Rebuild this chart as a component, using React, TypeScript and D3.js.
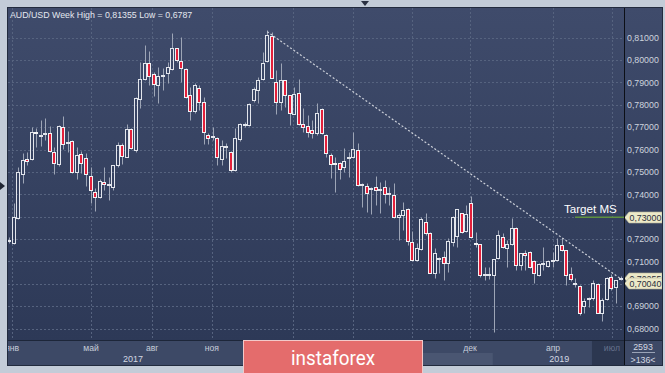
import React from "react";
import * as d3 from "d3";

const OPEN = [
  0.7194, 0.7181, 0.7293, 0.7491, 0.7556, 0.7557, 0.768, 0.7664, 0.7668, 0.7673,
  0.7588, 0.7536, 0.7702, 0.7629, 0.764, 0.7501, 0.7579, 0.7561, 0.7482, 0.7412,
  0.739, 0.7454, 0.7443, 0.7434, 0.7531, 0.7621, 0.7568, 0.7691, 0.7598, 0.7825,
  0.7914, 0.7986, 0.7937, 0.7889, 0.7931, 0.7942, 0.7959, 0.8053, 0.7997, 0.7959,
  0.7844, 0.7774, 0.7874, 0.7814, 0.7665, 0.7655, 0.7651, 0.7557, 0.761, 0.7591,
  0.7509, 0.7646, 0.7712, 0.771, 0.7822, 0.7866, 0.7914, 0.7997, 0.8108, 0.7903,
  0.7814, 0.7911, 0.7844, 0.7759, 0.7854, 0.7714, 0.7705, 0.7688, 0.7676, 0.778,
  0.7667, 0.7576, 0.7541, 0.7541, 0.7521, 0.7563, 0.7566, 0.7598, 0.7444, 0.7439,
  0.7425, 0.7432, 0.7421, 0.7434, 0.7403, 0.7397, 0.73, 0.7308, 0.7333, 0.7189,
  0.7107, 0.7155, 0.7278, 0.7229, 0.705, 0.7112, 0.7119, 0.7095, 0.7189, 0.7214,
  0.7315, 0.7236, 0.736, 0.7184, 0.7178, 0.7038, 0.7043, 0.704, 0.7114, 0.7211,
  0.7159, 0.7178, 0.7248, 0.7085, 0.7139, 0.7144, 0.71, 0.704, 0.7087, 0.708,
  0.7102, 0.7107, 0.7174, 0.7151, 0.7044, 0.7001, 0.6992, 0.6901, 0.6934, 0.6936,
  0.7, 0.6871, 0.6931, 0.7029, 0.6986, 0.7022,
];
const HIGH = [
  0.7211, 0.7363, 0.7524, 0.7586, 0.7591, 0.7701, 0.7698, 0.7732, 0.7741, 0.7705,
  0.7613, 0.771, 0.775, 0.7683, 0.7642, 0.7613, 0.7595, 0.7583, 0.7524, 0.7427,
  0.7467, 0.7521, 0.7479, 0.7533, 0.7635, 0.7631, 0.7714, 0.7695, 0.7834, 0.7993,
  0.8067, 0.8042, 0.7948, 0.797, 0.7963, 0.7993, 0.8122, 0.8055, 0.8104, 0.7963,
  0.7881, 0.7896, 0.7889, 0.7836, 0.7676, 0.7702, 0.7655, 0.7643, 0.7628, 0.7593,
  0.7695, 0.772, 0.7725, 0.7807, 0.7881, 0.7926, 0.8037, 0.81355, 0.8127, 0.7956,
  0.7986, 0.7913, 0.7846, 0.7881, 0.7914, 0.7787, 0.7755, 0.7732, 0.781, 0.7785,
  0.7669, 0.7583, 0.7568, 0.7546, 0.7606, 0.7591, 0.768, 0.7628, 0.7452, 0.745,
  0.7434, 0.7482, 0.7457, 0.7464, 0.7434, 0.745, 0.7315, 0.7367, 0.7337, 0.7238,
  0.7181, 0.73, 0.7315, 0.7231, 0.7159, 0.7121, 0.7148, 0.7204, 0.7303, 0.7335,
  0.7318, 0.7352, 0.7393, 0.7233, 0.718, 0.7077, 0.7077, 0.7112, 0.7241, 0.7226,
  0.7196, 0.7293, 0.7253, 0.7139, 0.715, 0.7148, 0.7107, 0.7095, 0.7166, 0.7107,
  0.7143, 0.7204, 0.7204, 0.7153, 0.7077, 0.7025, 0.6995, 0.6936, 0.6943, 0.7017,
  0.7003, 0.6936, 0.7032, 0.7044, 0.7019, 0.7036,
];
const LOW = [
  0.7184, 0.7178, 0.7289, 0.745, 0.7531, 0.7554, 0.7613, 0.7616, 0.7643, 0.7591,
  0.7491, 0.7528, 0.7601, 0.7591, 0.7494, 0.7467, 0.7494, 0.7437, 0.7363, 0.7327,
  0.7385, 0.742, 0.7375, 0.742, 0.7524, 0.7536, 0.7566, 0.7601, 0.7588, 0.7785,
  0.7911, 0.7889, 0.784, 0.7807, 0.7866, 0.7896, 0.7956, 0.7993, 0.7903, 0.7829,
  0.7732, 0.7762, 0.7777, 0.7625, 0.7625, 0.7643, 0.7531, 0.7531, 0.7561, 0.7501,
  0.7506, 0.764, 0.7702, 0.7705, 0.7814, 0.7807, 0.7911, 0.7993, 0.7918, 0.7758,
  0.7777, 0.7792, 0.771, 0.7757, 0.771, 0.768, 0.7658, 0.7651, 0.7665, 0.767,
  0.7568, 0.7472, 0.7412, 0.7467, 0.7501, 0.7479, 0.7561, 0.7437, 0.7345, 0.7323,
  0.7312, 0.7353, 0.7318, 0.736, 0.7353, 0.7293, 0.7196, 0.7241, 0.7174, 0.71,
  0.7104, 0.7151, 0.7218, 0.7047, 0.7025, 0.7047, 0.7017, 0.7055, 0.7169, 0.7164,
  0.7229, 0.7233, 0.7204, 0.7166, 0.7032, 0.7017, 0.702, 0.6787, 0.711, 0.7159,
  0.7077, 0.7174, 0.7062, 0.7062, 0.7062, 0.707, 0.7003, 0.7035, 0.7062, 0.7074,
  0.7077, 0.71, 0.7145, 0.6995, 0.7014, 0.6988, 0.6861, 0.6869, 0.6898, 0.6928,
  0.6869, 0.6834, 0.6928, 0.6973, 0.6913, 0.7018,
];
const CLOSE = [
  0.7198, 0.73, 0.7501, 0.7554, 0.7549, 0.768, 0.7678, 0.7667, 0.7676, 0.7595,
  0.7539, 0.7705, 0.7625, 0.7633, 0.7501, 0.7576, 0.7539, 0.7491, 0.742, 0.739,
  0.746, 0.7447, 0.7447, 0.7531, 0.7621, 0.7571, 0.7691, 0.7606, 0.7829, 0.7914,
  0.7986, 0.7929, 0.7892, 0.7929, 0.7935, 0.797, 0.8053, 0.8, 0.7963, 0.7834,
  0.7774, 0.7889, 0.7814, 0.7677, 0.7651, 0.766, 0.7568, 0.7616, 0.7614, 0.7509,
  0.7651, 0.7714, 0.7716, 0.7804, 0.7869, 0.7911, 0.7986, 0.8112, 0.7921, 0.7814,
  0.7911, 0.7844, 0.7762, 0.7849, 0.7714, 0.77, 0.768, 0.7676, 0.7765, 0.7673,
  0.7583, 0.7536, 0.7537, 0.7512, 0.755, 0.7566, 0.7601, 0.7442, 0.7448, 0.7405,
  0.7429, 0.742, 0.7425, 0.7402, 0.7407, 0.7298, 0.7308, 0.733, 0.7193, 0.7107,
  0.7159, 0.7289, 0.7226, 0.705, 0.7139, 0.7116, 0.7095, 0.7193, 0.73, 0.7333,
  0.7233, 0.7311, 0.7208, 0.7178, 0.704, 0.7042, 0.7046, 0.711, 0.7218, 0.7166,
  0.7178, 0.7248, 0.7085, 0.7137, 0.7129, 0.7077, 0.7047, 0.7089, 0.7091, 0.71,
  0.7106, 0.7174, 0.7151, 0.704, 0.7021, 0.7003, 0.6869, 0.6925, 0.6938, 0.7003,
  0.6871, 0.6928, 0.7025, 0.698, 0.7017, 0.70255,
];

const PRICE_TICKS = [0.68, 0.69, 0.7, 0.71, 0.72, 0.73, 0.74, 0.75, 0.76, 0.77, 0.78, 0.79, 0.8, 0.81];
const GRID_POS = [0.7, 18.1, 31.6, 44.8, 62.7, 75.9, 89.0, 101.8, 120.1, 133.1];
const MONTH_POS = [0.7, 18.1, 31.6, 44.8, 101.8, 120.1, 133.1];
const MONTH_LABELS = ["янв", "май", "авг", "ноя", "дек", "апр", "июл"];
const YEAR_POS = [27.4, 121.5];
const YEAR_LABELS = ["2017", "2019"];
const TREND_IDX = [57, 135.3];
const TREND_PRICE = [0.8127, 0.7019];
const TARGET_PRICE = 0.73;
const TARGET_LABEL = "Target MS";
const PRICE_TAGS = [0.70255, 0.7004];
const TITLE = "AUD/USD Week High = 0,81355 Low = 0,6787";
const BAR_COUNT_TEXT = ["2593", ">136<"];
const YEAR_HIGHLIGHT = [54, 106.8];
const CURRENT_BOX = [128.7, 135.8];

const FONT = "'Liberation Sans', Arial, sans-serif";
const RED = "#e3203b";
const WICK = "#9da5b6";

export default function App() {
  const W = 665, H = 373;
  const L = 8, T = 8, R = 662, B = 365;
  const plotR = 624, plotB = 340;

  const x = d3.scaleLinear().domain([0, OPEN.length - 1]).range([9, 620.5]);
  const y = d3.scaleLinear().domain([0.68, 0.81]).range([328.6, 37.7]);
  const fmt = (p: number) => d3.format(".5f")(p).replace(".", ",");
  const snap = (v: number) => Math.round(v) + 0.5;

  const trend = d3.line<number>()
    .x((_, i) => x(TREND_IDX[i]))
    .y((d) => y(d))(TREND_PRICE) || "";

  const allTags = [TARGET_PRICE, ...PRICE_TAGS];
  const axisLabels = PRICE_TICKS.filter((p) => allTags.every((t) => Math.abs(y(p) - y(t)) > 9));

  const tag = (p: number, key: string) => {
    const cy = Math.round(y(p)) + 0.5;
    const pts = [
      [624.5, cy], [629, cy - 5.5], [662, cy - 5.5], [662, cy + 5.5], [629, cy + 5.5],
    ].map((q) => q.join(",")).join(" ");
    return (
      <g key={key}>
        <polygon points={pts} fill="#ece9c8" stroke="#b9b79c" strokeWidth={0.6} />
        <text x={629.5} y={cy + 3.3} fontSize={8.8} fill="#2a2f3a" fontFamily={FONT}>{fmt(p)}</text>
      </g>
    );
  };

  return (
    <div style={{ position: "fixed", left: 0, top: 0, width: W, height: H }}>
      <svg width={W} height={H} viewBox={`0 0 ${W} ${H}`} style={{ display: "block" }}>
        <defs>
          <linearGradient id="bg" x1="0" y1="0" x2="0" y2="1">
            <stop offset="0" stopColor="#3f4b6b" />
            <stop offset="1" stopColor="#2d3957" />
          </linearGradient>
          <clipPath id="plotClip">
            <rect x={L} y={T} width={plotR - L} height={plotB - T} />
          </clipPath>
          <clipPath id="timeClip">
            <rect x={L} y={plotB} width={plotR - L} height={B - plotB} />
          </clipPath>
        </defs>

        <rect x={0} y={0} width={W} height={H} fill="#c3ccd8" />
        <rect x={L} y={T} width={R - L} height={plotB - T} fill="url(#bg)" />
        <rect x={L} y={plotB} width={R - L} height={B - plotB} fill="#3d4966" />

        <g clipPath="url(#timeClip)">
          <rect x={x(YEAR_HIGHLIGHT[0])} y={353} width={x(YEAR_HIGHLIGHT[1]) - x(YEAR_HIGHLIGHT[0])} height={B - 353} fill="#4a5672" />
          <rect x={x(CURRENT_BOX[0])} y={plotB + 1} width={x(CURRENT_BOX[1]) - x(CURRENT_BOX[0])} height={B - plotB - 1} fill="#2c3750" />
        </g>

        <g clipPath="url(#plotClip)">
          {PRICE_TICKS.map((p) => (
            <line key={"h" + p} x1={L} x2={plotR} y1={snap(y(p))} y2={snap(y(p))}
              stroke="#56637f" strokeDasharray="2,2" />
          ))}
          {GRID_POS.map((m) => (
            <line key={"v" + m} x1={snap(x(m))} x2={snap(x(m))} y1={T} y2={plotB}
              stroke="#56637f" strokeDasharray="2,2" />
          ))}
        </g>

        <g clipPath="url(#plotClip)">
          {OPEN.map((o, i) => {
            const c = CLOSE[i], h = HIGH[i], l = LOW[i];
            const cx = snap(x(i));
            const top = snap(y(Math.max(o, c)));
            let bot = snap(y(Math.min(o, c)));
            if (bot - top < 1) bot = top + 1;
            const yH = snap(y(h)), yL = snap(y(l));
            const bear = c < o;
            return (
              <g key={i}>
                {yH < top && <line x1={cx} x2={cx} y1={yH} y2={top} stroke={WICK} />}
                {yL > bot && <line x1={cx} x2={cx} y1={bot} y2={yL} stroke={WICK} />}
                <rect x={cx - 2} y={top} width={3} height={bot - top}
                  fill={bear ? RED : "none"} stroke={bear ? "#f2f2f4" : "#e2e5ec"} strokeWidth={1} />
              </g>
            );
          })}
          <path d={trend} fill="none" stroke="#cdd1da" strokeWidth={1.2} strokeDasharray="2,2" />
          <line x1={575} x2={plotR} y1={y(TARGET_PRICE) + 0.5} y2={y(TARGET_PRICE) + 0.5} stroke="#5f9140" strokeWidth={1.5} />
          <text x={564} y={y(TARGET_PRICE) - 3.5} fontSize={11.6} fill="#ffffff" fontFamily={FONT}>{TARGET_LABEL}</text>
        </g>

        <text x={10} y={17.5} fontSize={8.8} fill="#e4e8ef" fontFamily={FONT}>{TITLE}</text>

        {axisLabels.map((p) => (
          <text key={"pl" + p} x={627} y={y(p) + 3.2} fontSize={8.8} fill="#cdd3de" fontFamily={FONT}>{fmt(p)}</text>
        ))}
        {tag(TARGET_PRICE, "t0")}
        {PRICE_TAGS.map((p, i) => tag(p, "pt" + i))}

        <g clipPath="url(#timeClip)">
          {MONTH_POS.map((m, i) => (
            <text key={"ml" + i} x={x(m)} y={351} fontSize={8.6} textAnchor="middle"
              fill={i === MONTH_POS.length - 1 ? "#66718c" : "#c6cdd9"} fontFamily={FONT}>{MONTH_LABELS[i]}</text>
          ))}
          {YEAR_POS.map((m, i) => (
            <text key={"yl" + i} x={x(m)} y={361.5} fontSize={9} textAnchor="middle" fill="#d3d8e2" fontFamily={FONT}>{YEAR_LABELS[i]}</text>
          ))}
        </g>

        <line x1={L} x2={R} y1={plotB + 0.5} y2={plotB + 0.5} stroke="#1d2639" />
        <line x1={plotR + 0.5} x2={plotR + 0.5} y1={T} y2={B} stroke="#0c0f16" />
        <rect x={L - 0.5} y={T - 0.5} width={R - L + 1} height={B - T + 1} fill="none" stroke="#222b3e" />

        <text x={643} y={350} fontSize={8.8} textAnchor="middle" fill="#d3d8e2" fontFamily={FONT}>{BAR_COUNT_TEXT[0]}</text>
        <line x1={632} x2={655} y1={352.5} y2={352.5} stroke="#9aa3b6" />
        <text x={643} y={362.5} fontSize={8.8} textAnchor="middle" fill="#d3d8e2" fontFamily={FONT}>{BAR_COUNT_TEXT[1]}</text>

        <polygon points="361,1 369,1 365,6" fill="#2a3142" />
        <polygon points="0,182 5,186 0,190" fill="#1f2533" />

        <rect x={243.5} y={340.5} width={179} height={34} fill="#e46c6c" stroke="#f2c9c9" strokeWidth={1} />
        <text x={333} y={365} fontSize={21} textAnchor="middle" fill="#ffffff"
          fontFamily="Roboto, 'Liberation Sans', sans-serif" textLength={84} lengthAdjust="spacingAndGlyphs">instaforex</text>
      </svg>
    </div>
  );
}
